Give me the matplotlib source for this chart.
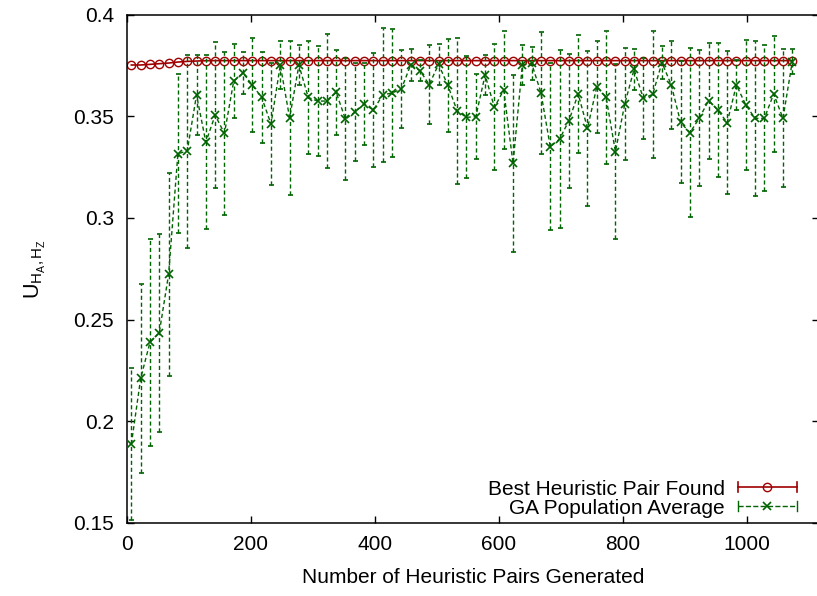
import numpy as np
import matplotlib
matplotlib.use('Agg')
import matplotlib.pyplot as plt
from matplotlib.lines import Line2D
from matplotlib.legend_handler import HandlerBase
from matplotlib.ticker import FuncFormatter

plt.rcParams['font.family'] = ['Liberation Sans', 'DejaVu Sans']
plt.rcParams['mathtext.fontset'] = 'custom'
plt.rcParams['mathtext.rm'] = 'Liberation Sans'
plt.rcParams['mathtext.it'] = 'Liberation Sans'

# evaluations: one sample every 15 heuristic pairs
pairs = np.arange(7.5, 1080, 15)

best = [0.37525, 0.37525, 0.37556, 0.37589, 0.37621, 0.3767, 0.37703, 0.3772,
        0.37736] + [0.3774] * 63

ga_mean = [0.1887, 0.2210, 0.2388, 0.2435, 0.2722, 0.3316, 0.3329, 0.3605,
           0.3373, 0.3505, 0.3416, 0.3674, 0.3713, 0.3653, 0.3593, 0.3462,
           0.3752, 0.3492, 0.3752, 0.3593, 0.3575, 0.3575, 0.3618, 0.3486,
           0.3520, 0.3560, 0.3531, 0.3605, 0.3615, 0.3634, 0.3752, 0.3725,
           0.3656, 0.3756, 0.3652, 0.3526, 0.3495, 0.3498, 0.3703, 0.3544,
           0.3629, 0.3268, 0.3752, 0.3760, 0.3616, 0.3350, 0.3388, 0.3478,
           0.3610, 0.3441, 0.3646, 0.3593, 0.3326, 0.3560, 0.3731, 0.3588,
           0.3608, 0.3764, 0.3654, 0.3470, 0.3419, 0.3490, 0.3577, 0.3531,
           0.3469, 0.3654, 0.3556, 0.3490, 0.3490, 0.3610, 0.3490, 0.3769]

ga_std = [0.0375, 0.0465, 0.051, 0.0487, 0.050, 0.039, 0.0475, 0.0195,
          0.043, 0.036, 0.040, 0.018, 0.0103, 0.023, 0.0225, 0.030,
          0.012, 0.038, 0.010, 0.028, 0.027, 0.033, 0.021, 0.030,
          0.024, 0.020, 0.028, 0.033, 0.0313, 0.019, 0.008, 0.005,
          0.0195, 0.010, 0.023, 0.036, 0.030, 0.021, 0.010, 0.031,
          0.029, 0.0434, 0.010, 0.008, 0.030, 0.041, 0.044, 0.033,
          0.029, 0.038, 0.0227, 0.0327, 0.043, 0.0277, 0.010, 0.020,
          0.0314, 0.008, 0.0217, 0.030, 0.0415, 0.0335, 0.0286, 0.033,
          0.035, 0.0125, 0.032, 0.038, 0.036, 0.0285, 0.034, 0.006]

red = '#a00000'
green = '#006400'


class CapLineHandler(HandlerBase):
    # legend sample: line with end caps and the marker in the middle
    def create_artists(self, legend, orig, xdescent, ydescent, width, height,
                       fontsize, trans):
        x0, x1 = -xdescent, -xdescent + width
        y = -ydescent + height / 2
        h = 3.5
        line = Line2D([x0, x1], [y, y], color=orig.get_color(),
                      linestyle=orig.get_linestyle(), lw=orig.get_linewidth())
        caps = Line2D([x0, x0, np.nan, x1, x1], [y - h, y + h, np.nan, y - h, y + h],
                      color=orig.get_color(), lw=orig.get_linewidth())
        mark = Line2D([(x0 + x1) / 2], [y], marker=orig.get_marker(),
                      ms=orig.get_markersize(), mfc='none',
                      mec=orig.get_color(), mew=orig.get_markeredgewidth(),
                      linestyle='none')
        for a in (line, caps, mark):
            a.set_transform(trans)
        return [line, caps, mark]


fig = plt.figure(figsize=(8.17, 5.96), dpi=100)
ax = fig.add_axes([126.7 / 817, 1 - 522.7 / 596, (819 - 126.7) / 817, (522.7 - 14.7) / 596])

ax.errorbar(pairs, best, yerr=0, color=red, lw=1.2, marker='o', ms=6,
            mfc='none', mew=1.0, capsize=0, zorder=2)
eb = ax.errorbar(pairs, ga_mean, yerr=ga_std, color=green, lw=1.0,
                 linestyle=(0, (3, 2)), marker='x', ms=6, mew=1.2,
                 ecolor=green, elinewidth=1.0, capsize=1.8, capthick=1.0,
                 zorder=3)
eb[2][0].set_linestyle((0, (3, 2)))

ax.set_xlim(0, (819 - 126.7) / 0.6206)
ax.set_ylim(0.15, 0.4)
ax.set_xticks([0, 200, 400, 600, 800, 1000])
ax.set_yticks([0.15, 0.2, 0.25, 0.3, 0.35, 0.4])
ax.yaxis.set_major_formatter(FuncFormatter(lambda v, p: '%g' % v))
ax.tick_params(direction='in', length=5, width=1, top=True, right=True,
               labelsize=15, pad=9)
for s in ax.spines.values():
    s.set_linewidth(1.1)

ax.set_xlabel('Number of Heuristic Pairs Generated', fontsize=15, labelpad=10)
ax.set_ylabel(r'$\mathregular{U_{H_{A},H_{Z}}}$', fontsize=15.5, labelpad=18)

h_best = Line2D([], [], color=red, lw=1.2, marker='o', ms=6, mew=1.0)
h_ga = Line2D([], [], color=green, lw=1.0, linestyle=(0, (3, 2)), marker='x',
              ms=6, mew=1.2)
ax.legend([h_best, h_ga], ['Best Heuristic Pair Found', 'GA Population Average'],
          handler_map={Line2D: CapLineHandler()}, loc='lower right',
          bbox_to_anchor=((797 - 126.7) / (819 - 126.7), 0.01),
          borderaxespad=0, borderpad=0, frameon=False, markerfirst=False,
          fontsize=15, handlelength=2.85, handletextpad=0.6, labelspacing=0.0)

fig.savefig('out.png', dpi=100)
